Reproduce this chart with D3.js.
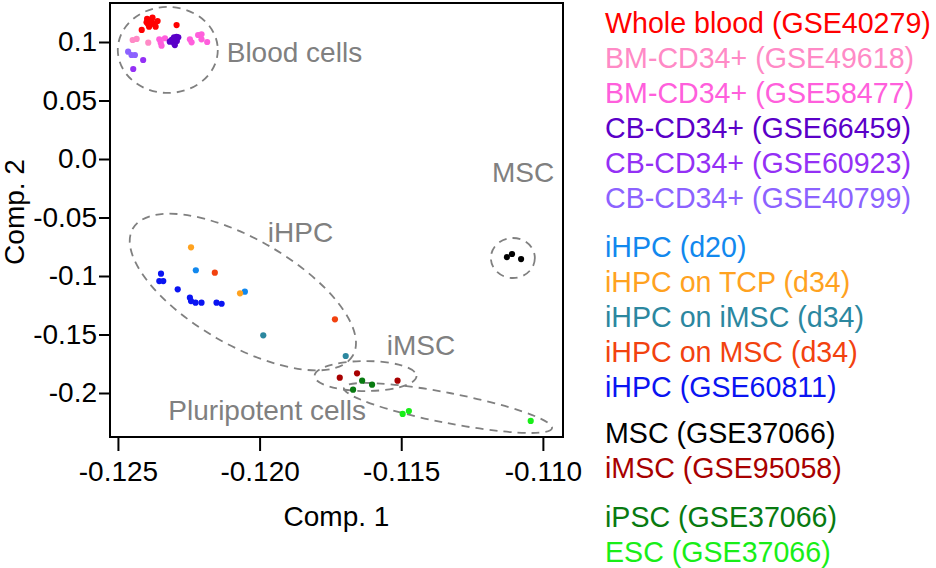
<!DOCTYPE html>
<html><head><meta charset="utf-8">
<script src="https://cdn.jsdelivr.net/npm/d3@7"></script>
<style>
body{margin:0;background:#fff}
svg{display:block;font-family:"Liberation Sans",Arial,Helvetica,sans-serif}
</style>
</head><body>
<svg id="chart" width="936" height="568"></svg>
<script>
// ---------- data ----------
const xTicks = [-0.125, -0.120, -0.115, -0.110];
const xTickLabels = ["-0.125", "-0.120", "-0.115", "-0.110"];
const yTicks = [0.1, 0.05, 0.0, -0.05, -0.1, -0.15, -0.2];
const yTickLabels = ["0.1", "0.05", "0.0", "-0.05", "-0.1", "-0.15", "-0.2"];

const wholeBlood = [[-0.12397,0.1197],[-0.12399,0.1168],[-0.12381,0.1179],[-0.12373,0.1154],[-0.12367,0.1131],
  [-0.12390,0.1131],[-0.12360,0.1179],[-0.12416,0.1103],[-0.12293,0.1145],[-0.12378,0.1209],[-0.12394,0.1154]];
const bm49618 = [[-0.12448,0.1017],[-0.12434,0.1026],[-0.12393,0.0994]];
const bm58477 = [[-0.12354,0.1023],[-0.12349,0.0994],[-0.12346,0.0968],[-0.12334,0.1032],[-0.12246,0.1023],
  [-0.12240,0.0997],[-0.12217,0.1060],[-0.12205,0.1066],[-0.12205,0.1023],[-0.12185,0.1000]];
const cb66459 = [[-0.12311,0.1017],[-0.12302,0.1040],[-0.12293,0.1045],[-0.12317,0.1003],[-0.12302,0.0989],
  [-0.12299,0.0974],[-0.12287,0.1040],[-0.12307,0.1023],[-0.12292,0.1009]];
const cb60923 = [[-0.12411,0.0846],[-0.12446,0.0769]];
const cb40799 = [[-0.12464,0.0917],[-0.12452,0.0889],[-0.12440,0.0889]];
const ihpcD20 = [[-0.12225,-0.0951],[-0.12052,-0.1134]];
const ihpcTCP = [[-0.12242,-0.0755],[-0.12069,-0.1148]];
const ihpcIMSC = [[-0.11987,-0.1507],[-0.11696,-0.1684]];
const ihpcMSC = [[-0.12158,-0.0972],[-0.11734,-0.1370]];
const ihpc60811 = [[-0.12348,-0.0980],[-0.12354,-0.1043],[-0.12340,-0.1043],[-0.12289,-0.1114],[-0.12246,-0.1185],
  [-0.12242,-0.1214],[-0.12226,-0.1228],[-0.12205,-0.1228],[-0.12152,-0.1228],[-0.12134,-0.1237]];
const msc37066 = [[-0.11127,-0.0838],[-0.11109,-0.0812],[-0.11077,-0.0855]];
const imsc95058 = [[-0.11717,-0.1869],[-0.11656,-0.1832],[-0.11513,-0.1895]];
const ipsc37066 = [[-0.11638,-0.1895],[-0.11603,-0.1929],[-0.11670,-0.1972]];
const esc37066 = [[-0.11495,-0.2179],[-0.11473,-0.2154],[-0.11043,-0.2239]];

const seriesNames = ["Whole blood (GSE40279)","BM-CD34+ (GSE49618)","BM-CD34+ (GSE58477)","CB-CD34+ (GSE66459)",
  "CB-CD34+ (GSE60923)","CB-CD34+ (GSE40799)","iHPC (d20)","iHPC on TCP (d34)","iHPC on iMSC (d34)",
  "iHPC on MSC (d34)","iHPC (GSE60811)","MSC (GSE37066)","iMSC (GSE95058)","iPSC (GSE37066)","ESC (GSE37066)"];
const seriesValues = [wholeBlood,bm49618,bm58477,cb66459,cb60923,cb40799,ihpcD20,ihpcTCP,ihpcIMSC,ihpcMSC,
  ihpc60811,msc37066,imsc95058,ipsc37066,esc37066];
const seriesColors = ["#ff0000","#ff8ac6","#ff5fdc","#5a00c8","#9430f5","#8c62ff","#1188ee","#ffa21f","#2b879f",
  "#f2420f","#0a14f2","#000000","#a80000","#087a10","#18ee18"];
const legendGroups = [0,0,0,0,0,0,1,1,1,1,1,2,2,3,3];

// annotation ellipses: centre in data units, semi-axes in px, rotation in degrees
const ellipseCenters = [[-0.12324,0.0932],[-0.12059,-0.1137],[-0.11106,-0.0846],[-0.11626,-0.1855],[-0.11335,-0.2128]];
const ellipseAxes = [[50,43],[127,53],[22,20],[51,15],[106,15]];
const ellipseAngles = [0,30,0,0,11];

const noteTexts = ["Blood cells","iHPC","MSC","iMSC","Pluripotent cells"];
const notePositions = [[-0.12116,0.0829],[-0.11971,-0.0710],[-0.11180,-0.0197],[-0.11551,-0.1675],[-0.12322,-0.2231]];

// ---------- layout ----------
const svg = d3.select("#chart");
const plot = {left:110, right:563, top:3, bottom:437};
const x = d3.scaleLinear().domain([-0.12528, -0.10929]).range([plot.left, plot.right]);
const y = d3.scaleLinear().domain([-0.23761, 0.13333]).range([plot.bottom, plot.top]);
const grey = "#808080";
const fs = 28;

// ellipses
svg.append("g").selectAll("ellipse").data(ellipseCenters).join("ellipse")
  .attr("transform",(d,i)=>`translate(${x(d[0])},${y(d[1])}) rotate(${ellipseAngles[i]})`)
  .attr("rx",(d,i)=>ellipseAxes[i][0]).attr("ry",(d,i)=>ellipseAxes[i][1])
  .attr("fill","none").attr("stroke",grey).attr("stroke-width",1.8).attr("stroke-dasharray","8,6");

// points
const pts = [];
seriesValues.forEach((arr,i)=>arr.forEach(p=>pts.push({x:p[0],y:p[1],c:seriesColors[i]})));
svg.append("g").selectAll("circle").data(pts).join("circle")
  .attr("cx",d=>x(d.x)).attr("cy",d=>y(d.y)).attr("r",3.1).attr("fill",d=>d.c);

// annotation labels
svg.append("g").selectAll("text").data(noteTexts).join("text")
  .attr("x",(d,i)=>x(notePositions[i][0])).attr("y",(d,i)=>y(notePositions[i][1]))
  .attr("fill",grey).attr("font-size",fs).text(d=>d);

// frame
svg.append("rect").attr("x",plot.left).attr("y",plot.top)
  .attr("width",plot.right-plot.left).attr("height",plot.bottom-plot.top)
  .attr("fill","none").attr("stroke","#000").attr("stroke-width",2);

// axes
const xAxis = d3.axisBottom(x).tickValues(xTicks).tickFormat((d,i)=>xTickLabels[i]).tickSize(14).tickPadding(10);
const gx = svg.append("g").attr("transform",`translate(0,${plot.bottom})`).call(xAxis);
gx.select(".domain").remove();
gx.selectAll("line").attr("stroke","#000").attr("stroke-width",2);
gx.selectAll("text").attr("font-size",fs).attr("font-family","Liberation Sans, Arial, sans-serif").attr("fill","#000");

const yAxis = d3.axisLeft(y).tickValues(yTicks).tickFormat((d,i)=>yTickLabels[i]).tickSize(11).tickPadding(2);
const gy = svg.append("g").attr("transform",`translate(${plot.left},0)`).call(yAxis);
gy.select(".domain").remove();
gy.selectAll("line").attr("stroke","#000").attr("stroke-width",2);
gy.selectAll("text").attr("font-size",fs).attr("font-family","Liberation Sans, Arial, sans-serif").attr("fill","#000");

// axis titles
svg.append("text").attr("x",(plot.left+plot.right)/2).attr("y",526).attr("text-anchor","middle")
  .attr("font-size",fs).text("Comp. 1");
svg.append("text").attr("transform",`translate(24,${(plot.top+plot.bottom)/2-8}) rotate(-90)`)
  .attr("text-anchor","middle").attr("font-size",fs).text("Comp. 2");

// legend
const groupStart = [33.3, 256.7, 443.3, 526.7];
const groupFirst = [0, 6, 11, 13];
svg.append("g").selectAll("text").data(seriesNames).join("text")
  .attr("x",605)
  .attr("y",(d,i)=>groupStart[legendGroups[i]] + (i-groupFirst[legendGroups[i]])*35)
  .attr("fill",(d,i)=>seriesColors[i]).attr("font-size",28.6).text(d=>d);
</script>
</body></html>
